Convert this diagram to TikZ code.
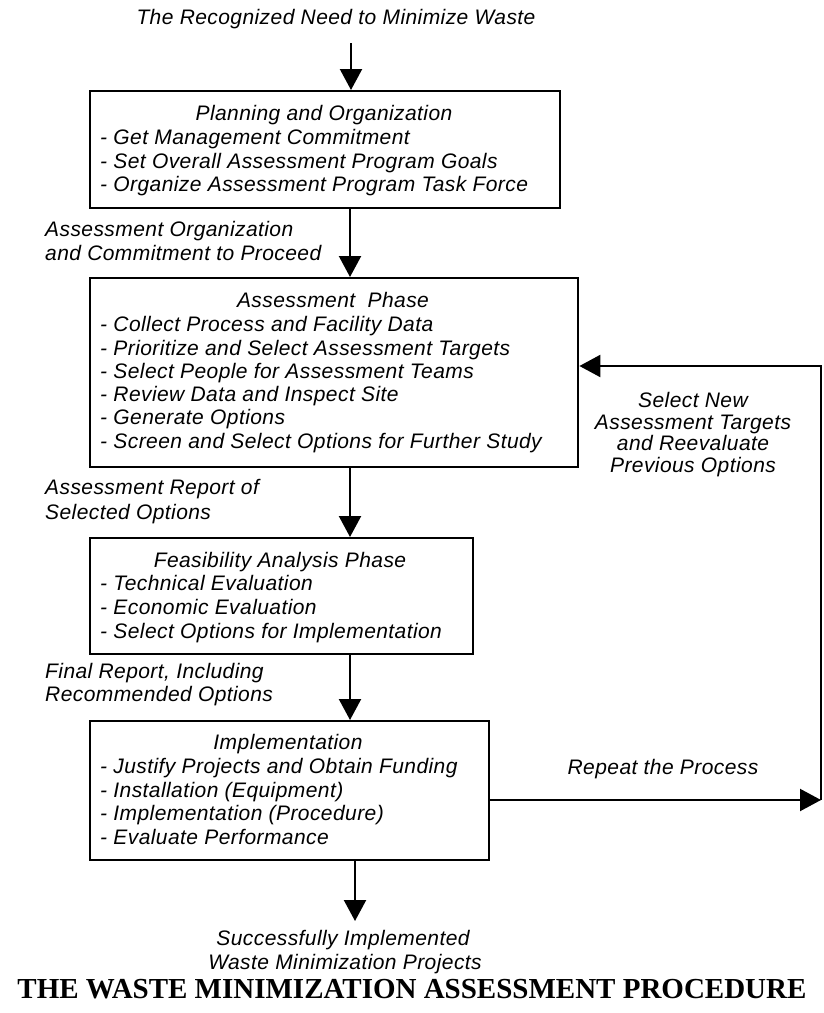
\documentclass[tikz,border=0pt]{standalone}
\usepackage{fontspec}
\setmainfont{Liberation Sans}[LetterSpace=2]
\newfontfamily\titlefont{Liberation Serif}
\usetikzlibrary{arrows.meta}
\begin{document}
\begin{tikzpicture}[x=1pt,y=-1pt,
  box/.style={draw, line width=2.4pt, rectangle, anchor=north west, inner sep=0pt},
  tl/.style={font=\fontsize{21}{23.7}\selectfont\itshape, inner sep=0pt, anchor=base west},
  tc/.style={tl, anchor=base},
  ttl/.style={font=\titlefont\bfseries\fontsize{29}{32}\selectfont, inner sep=0pt, anchor=base},
  arr/.style={line width=2.2pt, -{Triangle[length=21pt,width=22pt]}},
]
\useasboundingbox (0,0) rectangle (824,1013);

% boxes
\node[box, minimum width=470pt, minimum height=117pt] (b1) at (89,90) {};
\node[box, minimum width=488pt, minimum height=189pt] (b2) at (89,277) {};
\node[box, minimum width=383pt, minimum height=116pt] (b3) at (89,537) {};
\node[box, minimum width=399pt, minimum height=139pt] (b4) at (89,720) {};

% start
\node[tc] (start) at (336,24) {The Recognized Need to Minimize Waste};
\coordinate (s) at (351,43);

% box 1
\node[tc] (h1) at (324,120) {Planning and Organization};
\node[tl] (i11) at (100,144) {- Get Management Commitment};
\node[tl] (i12) at (100,168) {- Set Overall Assessment Program Goals};
\node[tl] (i13) at (100,191) {- Organize Assessment Program Task Force};

\node[tl] (l11) at (45,236) {Assessment Organization};
\node[tl] (l12) at (45,260) {and Commitment to Proceed};

% box 2
\node[tc] (h2) at (333,307) {Assessment\ \ Phase};
\node[tl] (i21) at (100,331) {- Collect Process and Facility Data};
\node[tl] (i22) at (100,355) {- Prioritize and Select Assessment Targets};
\node[tl] (i23) at (100,378) {- Select People for Assessment Teams};
\node[tl] (i24) at (100,401) {- Review Data and Inspect Site};
\node[tl] (i25) at (100,424) {- Generate Options};
\node[tl] (i26) at (100,448) {- Screen and Select Options for Further Study};

\node[tl] (l21) at (45,494) {Assessment Report of};
\node[tl] (l22) at (45,519) {Selected Options};

% box 3
\node[tc] (h3) at (280,567) {Feasibility Analysis Phase};
\node[tl] (i31) at (100,590) {- Technical Evaluation};
\node[tl] (i32) at (100,614) {- Economic Evaluation};
\node[tl] (i33) at (100,638) {- Select Options for Implementation};

\node[tl] (l31) at (45,678) {Final Report, Including};
\node[tl] (l32) at (45,701) {Recommended Options};

% box 4
\node[tc] (h4) at (288,749) {Implementation};
\node[tl] (i41) at (100,773) {- Justify Projects and Obtain Funding};
\node[tl] (i42) at (100,797) {- Installation (Equipment)};
\node[tl] (i43) at (100,820) {- Implementation (Procedure)};
\node[tl] (i44) at (100,844) {- Evaluate Performance};

% end
\coordinate (e) at (355,921);
\node[tc] (end1) at (343,945) {Successfully Implemented};
\node[tc] (end2) at (345,969) {Waste Minimization Projects};

% loop labels
\node[tc] (rep) at (663,774) {Repeat the Process};
\node[tc] (sel1) at (693,407) {Select New};
\node[tc] (sel2) at (693,429) {Assessment Targets};
\node[tc] (sel3) at (693,450) {and Reevaluate};
\node[tc] (sel4) at (693,472) {Previous Options};

% title
\node[ttl] (title) at (412,998) {THE WASTE MINIMIZATION ASSESSMENT PROCEDURE};

% connectors
\draw[arr] (s) -- (s |- b1.north);
\draw[arr] (350,0 |- b1.south) -- (350,0 |- b2.north);
\draw[arr] (350,0 |- b2.south) -- (350,0 |- b3.north);
\draw[arr] (350,0 |- b3.south) -- (350,0 |- b4.north);
\draw[arr] (355,0 |- b4.south) -- (e);

\coordinate (c1) at (821,800);
\coordinate (c2) at (821,366);
\draw[arr] (b4.east |- c1) -- (c1);
\draw[arr] (c1) -- (c2) -- (b2.east |- c2);
\end{tikzpicture}
\end{document}
